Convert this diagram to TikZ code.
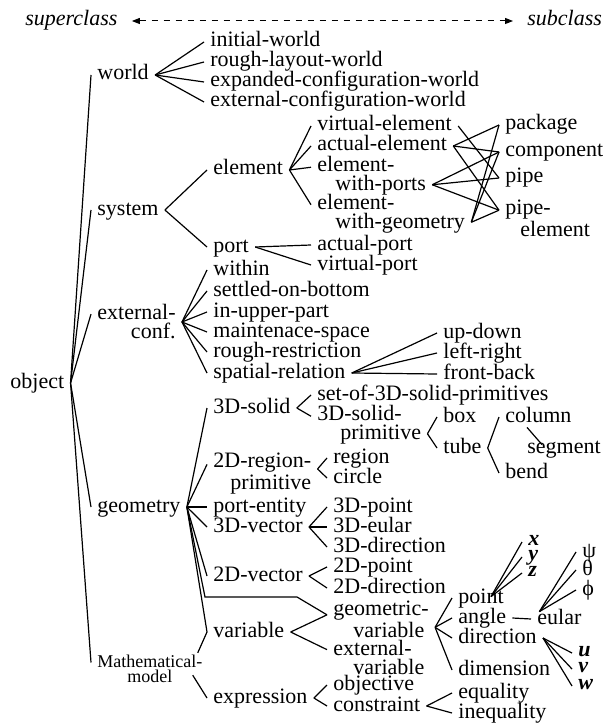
\documentclass[tikz,border=0pt]{standalone}
\usepackage{fontspec}
\setmainfont{Liberation Serif}
\usetikzlibrary{arrows.meta, calc}

\begin{document}
\begin{tikzpicture}[
    x=0.5pt, y=-0.5pt,
    cls/.style={anchor=west, inner xsep=3pt, inner ysep=1pt, text height=7.5pt, text depth=2.5pt, font=\fontsize{11}{9.5}\selectfont},
    cls2/.style={anchor=west, inner xsep=3pt, inner ysep=1pt, align=#1, font=\fontsize{11}{9.5}\selectfont},
    cls2/.default=left,
    tag/.style={cls, font=\fontsize{11}{9.5}\selectfont\itshape},
    coord/.style={cls, inner ysep=0pt, text height=5pt, text depth=1.5pt, font=\fontsize{11}{9.5}\selectfont\bfseries\itshape},
    link/.style={line width=0.6pt},
    ends/.style={{Triangle[length=4pt,width=3pt]}-{Triangle[length=4pt,width=3pt]}, dashed, line width=0.5pt, shorten <=4pt, shorten >=4pt}
]
\useasboundingbox (0,0) rectangle (605,727);

% Direction of the hierarchy
\node[tag] (sup) at (19,21) {superclass};
\node[tag] (sub) at (521,21) {subclass};
\draw[ends] (sup.east) -- (sub.west);

% Root and first level
\node[cls] (object) at (4,383) {object};
\node[cls] (world) at (91,75) {world};
\node[cls] (system) at (91,210) {system};
\node[cls2=right] (extconf) at (91,322) {external-\\conf.};
\node[cls] (geometry) at (91,507) {geometry};
\node[cls2=center, font=\fontsize{9}{7.5}\selectfont] (mathmodel) at (91,669) {Mathematical-\\model};

% World
\node[cls] (iniw) at (204,42) {initial-world};
\node[cls] (roughw) at (204,62) {rough-layout-world};
\node[cls] (expw) at (204,82) {expanded-configuration-world};
\node[cls] (extw) at (204,102) {external-configuration-world};

% System
\node[cls] (element) at (207,170) {element};
\node[cls] (port) at (207,247) {port};
\node[cls] (velem) at (311,126) {virtual-element};
\node[cls] (aelem) at (311,146) {actual-element};
\node[cls2] (ewp) at (311,176) {element-\\\hspace*{9pt}with-ports};
\node[cls2] (ewg) at (311,213.5) {element-\\\hspace*{9pt}with-geometry};
\node[cls] (aport) at (311,245) {actual-port};
\node[cls] (vport) at (311,265) {virtual-port};
\node[cls] (package) at (499,125) {package};
\node[cls] (component) at (499,152) {component};
\node[cls] (pipe) at (499,178) {pipe};
\node[cls2] (pipeelem) at (499,218.5) {pipe-\\\hspace*{7.5pt}element};

% External configuration
\node[cls] (within) at (207,270) {within};
\node[cls] (settled) at (207,291) {settled-on-bottom};
\node[cls] (inupper) at (207,312) {in-upper-part};
\node[cls] (maint) at (207,332) {maintenace-space};
\node[cls] (roughr) at (207,352) {rough-restriction};
\node[cls] (spatial) at (207,373) {spatial-relation};
\node[cls] (updown) at (437,333) {up-down};
\node[cls] (leftright) at (437,353) {left-right};
\node[cls] (frontback) at (437,374) {front-back};

% Geometry
\node[cls] (solid3d) at (207,408) {3D-solid};
\node[cls2=right] (region2d) at (207,473.5) {2D-region-\\primitive};
\node[cls] (portent) at (207,507) {port-entity};
\node[cls] (vec3d) at (207,527) {3D-vector};
\node[cls] (vec2d) at (207,576) {2D-vector};
\node[cls] (variable) at (207,632) {variable};
\node[cls] (set3d) at (311,395) {set-of-3D-solid-primitives};
\node[cls2] (prim3d) at (311,425) {3D-solid-\\\hspace*{11.5pt}primitive};
\node[cls] (box) at (437,417) {box};
\node[cls] (tube) at (437,448) {tube};
\node[cls] (column) at (499,417) {column};
\node[cls] (segment) at (521,448) {segment};
\node[cls] (bendn) at (499,473) {bend};
\node[cls] (region) at (327,458) {region};
\node[cls] (circ) at (327,478) {circle};
\node[cls] (point3d) at (327,507) {3D-point};
\node[cls] (eular3d) at (327,527) {3D-eular};
\node[cls] (dir3d) at (327,547) {3D-direction};
\node[cls] (point2d) at (327,567) {2D-point};
\node[cls] (dir2d) at (327,588) {2D-direction};
\coordinate (gbend) at (205,597);
\coordinate (gbend2) at (297,597);

% Mathematical model
\node[cls2] (gvar) at (327,619) {geometric-\\\hspace*{10pt}variable};
\node[cls2] (evar) at (327,657.5) {external-\\\hspace*{10pt}variable};
\node[cls] (expression) at (207,698) {expression};
\node[cls] (objective) at (327,685) {objective};
\node[cls] (constraint) at (327,706) {constraint};
\node[cls] (equality) at (452,693) {equality};
\node[cls] (inequality) at (452,713) {inequality};
\node[cls] (gpoint) at (452,598) {point};
\node[cls] (gangle) at (452,618) {angle};
\node[cls] (gdir) at (452,638) {direction};
\node[cls] (gdim) at (452,670) {dimension};
\node[cls] (eular) at (531,619) {eular};
\node[coord] (px) at (522,542) {x};
\node[coord] (py) at (522,557) {y};
\node[coord] (pz) at (522,573) {z};
\node[cls] (psi) at (576,552) {ψ};
\node[cls] (theta) at (576,570) {θ};
\node[cls] (phi) at (576,590) {ϕ};
\node[coord] (du) at (572,653) {u};
\node[coord] (dv) at (572,669) {v};
\node[coord] (dw) at (572,686) {w};

% Root links
\draw[link] (object.east) -- (world.west);
\draw[link] (object.east) -- (system.west);
\draw[link] (object.east) -- ($(extconf.north west)!.3!(extconf.south west)$);
\draw[link] (object.east) -- (geometry.west);
\draw[link] (object.east) -- ($(mathmodel.north west)!.3!(mathmodel.south west)$);

% World links
\draw[link] (world.east) -- (iniw.west);
\draw[link] (world.east) -- (roughw.west);
\draw[link] (world.east) -- (expw.west);
\draw[link] (world.east) -- (extw.west);

% System links
\draw[link] (system.east) -- (element.west);
\draw[link] (system.east) -- (port.west);
\draw[link] (element.east) -- (velem.west);
\draw[link] (element.east) -- (aelem.west);
\draw[link] (element.east) -- ($(ewp.north west)!.3!(ewp.south west)$);
\draw[link] (element.east) -- ($(ewg.north west)!.3!(ewg.south west)$);
\draw[link] (port.east) -- (aport.west);
\draw[link] (port.east) -- (vport.west);
\draw[link] (velem.east) -- (pipe.west);
\draw[link] (aelem.east) -- (package.west);
\draw[link] (aelem.east) -- (component.west);
\draw[link] (aelem.east) -- ($(pipeelem.north west)!.3!(pipeelem.south west)$);
\draw[link] ($(ewp.north east)!.7!(ewp.south east)$) -- (component.west);
\draw[link] ($(ewp.north east)!.7!(ewp.south east)$) -- (pipe.west);
\draw[link] ($(ewp.north east)!.7!(ewp.south east)$) -- ($(pipeelem.north west)!.3!(pipeelem.south west)$);
\draw[link] ($(ewg.north east)!.7!(ewg.south east)$) -- (package.west);
\draw[link] ($(ewg.north east)!.7!(ewg.south east)$) -- (component.west);
\draw[link] ($(ewg.north east)!.7!(ewg.south east)$) -- ($(pipeelem.north west)!.3!(pipeelem.south west)$);

% External configuration links
\draw[link] (extconf.east) -- (within.west);
\draw[link] (extconf.east) -- (settled.west);
\draw[link] (extconf.east) -- (inupper.west);
\draw[link] (extconf.east) -- (maint.west);
\draw[link] (extconf.east) -- (roughr.west);
\draw[link] (extconf.east) -- (spatial.west);
\draw[link] (spatial.east) -- (updown.west);
\draw[link] (spatial.east) -- (leftright.west);
\draw[link] (spatial.east) -- (frontback.west);

% Geometry links
\draw[link] (geometry.east) -- (solid3d.west);
\draw[link] (geometry.east) -- ($(region2d.north west)!.3!(region2d.south west)$);
\draw[link] (geometry.east) -- (portent.west);
\draw[link] (geometry.east) -- (vec3d.west);
\draw[link] (geometry.east) -- (vec2d.west);
\draw[link] (geometry.east) -- (variable.west);
\draw[link] (geometry.east) -- (gbend) -- (gbend2) -- ($(gvar.north west)!.4!(gvar.south west)$);
\draw[link] (solid3d.east) -- (set3d.west);
\draw[link] (solid3d.east) -- ($(prim3d.north west)!.3!(prim3d.south west)$);
\draw[link] ($(prim3d.north east)!.7!(prim3d.south east)$) -- (box.west);
\draw[link] ($(prim3d.north east)!.7!(prim3d.south east)$) -- (tube.west);
\draw[link] (tube.east) -- (column.west);
\draw[link] (tube.east) -- (bendn.west);
\draw[link] ($(column.south west)+(28,-2)$) -- ($(segment.north west)+(21,9)$);
\draw[link] ($(region2d.north east)!.4!(region2d.south east)$) -- (region.west);
\draw[link] ($(region2d.north east)!.4!(region2d.south east)$) -- (circ.west);
\draw[link] (vec3d.east) -- (point3d.west);
\draw[link] (vec3d.east) -- (eular3d.west);
\draw[link] (vec3d.east) -- (dir3d.west);
\draw[link] (vec2d.east) -- (point2d.west);
\draw[link] (vec2d.east) -- (dir2d.west);

% Mathematical model links
\draw[link] ($(mathmodel.north east)+(-11,0)$) -- (variable.west);
\draw[link] ($(mathmodel.south east)+(-16,-10)$) -- (expression.west);
\draw[link] (variable.east) -- ($(gvar.north west)!.4!(gvar.south west)$);
\draw[link] (variable.east) -- ($(evar.north west)!.3!(evar.south west)$);
\draw[link] ($(gvar.north east)!.7!(gvar.south east)$) -- (gpoint.west);
\draw[link] ($(gvar.north east)!.7!(gvar.south east)$) -- (gangle.west);
\draw[link] ($(gvar.north east)!.7!(gvar.south east)$) -- (gdir.west);
\draw[link] ($(gvar.north east)!.7!(gvar.south east)$) -- (gdim.west);
\draw[link] (gangle.east) -- (eular.west);
\draw[link] ($(gpoint.north)+(10,11)$) -- (px.west);
\draw[link] ($(gpoint.north)+(10,11)$) -- (py.west);
\draw[link] ($(gpoint.north)+(10,11)$) -- (pz.west);
\draw[link] ($(eular.north)+(-20,5)$) -- (psi.west);
\draw[link] ($(eular.north)+(-20,5)$) -- (theta.west);
\draw[link] ($(eular.north)+(-20,5)$) -- (phi.west);
\draw[link] (gdir.east) -- (du.west);
\draw[link] (gdir.east) -- (dv.west);
\draw[link] (gdir.east) -- (dw.west);
\draw[link] (expression.east) -- (objective.west);
\draw[link] (expression.east) -- (constraint.west);
\draw[link] (constraint.east) -- (equality.west);
\draw[link] (constraint.east) -- (inequality.west);
\end{tikzpicture}
\end{document}
